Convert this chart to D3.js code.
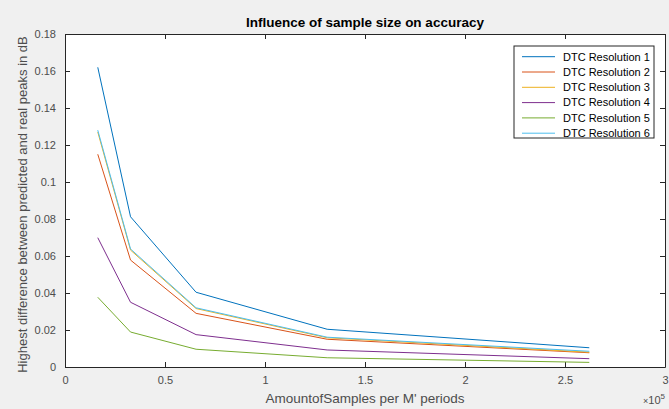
<!DOCTYPE html>
<html>
<head>
<meta charset="utf-8">
<script src="https://cdn.jsdelivr.net/npm/d3@7"></script>
<style>
  body { margin: 0; background: #f0f0f0; }
  svg { display: block; font-family: "Liberation Sans", Arial, sans-serif; }
</style>
</head>
<body>
<svg id="chart" width="669" height="409"></svg>
<script>
// sample counts (x values)
const samples = [16384, 32768, 65536, 131072, 262144]

const seriesNames = ["DTC Resolution 1", "DTC Resolution 2", "DTC Resolution 3",
                     "DTC Resolution 4", "DTC Resolution 5", "DTC Resolution 6"]

const res1 = [0.162, 0.0812, 0.0404, 0.0204, 0.0104]
const res2 = [0.115, 0.0578, 0.0290, 0.0150, 0.0077]
const res3 = [0.127, 0.0632, 0.0316, 0.0158, 0.0080]
const res4 = [0.0699, 0.0350, 0.0175, 0.0092, 0.0045]
const res5 = [0.0377, 0.0189, 0.0096, 0.0050, 0.0025]
const res6 = [0.128, 0.0638, 0.0320, 0.0161, 0.0085]

const xTicks = [0, 0.5, 1, 1.5, 2, 2.5, 3]
const yTicks = [0, 0.02, 0.04, 0.06, 0.08, 0.1, 0.12, 0.14, 0.16, 0.18]

const colors = ["#0072BD", "#D95319", "#EDB120", "#7E2F8E", "#77AC30", "#4DBEEE"]
const allSeries = [res1, res2, res3, res4, res5, res6]

const svg = d3.select("#chart")
const margin = {top: 34, right: 4, bottom: 42, left: 65}
const w = 669 - margin.left - margin.right
const h = 409 - margin.top - margin.bottom

const x = d3.scaleLinear().domain([0, 3]).range([0, w])
const y = d3.scaleLinear().domain([0, 0.18]).range([h, 0])

const g = svg.append("g")
             .attr("transform", `translate(${margin.left}, ${margin.top})`)

g.append("rect")
 .attr("width", w).attr("height", h)
 .attr("fill", "white")

const axisColor = "#262626"
const labelColor = "#4d4d4d"

// ticks on all four sides, pointing inward
const bottomAxis = g.append("g").attr("transform", `translate(0, ${h})`)
  .call(d3.axisBottom(x).tickValues(xTicks).tickSizeInner(-5).tickSizeOuter(0).tickPadding(9)
        .tickFormat(d => d3.format("")(d)))
const topAxis = g.append("g")
  .call(d3.axisTop(x).tickValues(xTicks).tickSizeInner(-5).tickSizeOuter(0).tickFormat(""))
const leftAxis = g.append("g")
  .call(d3.axisLeft(y).tickValues(yTicks).tickSizeInner(-5).tickSizeOuter(0).tickPadding(9)
        .tickFormat(d => d3.format("")(+d.toFixed(2))))
const rightAxis = g.append("g").attr("transform", `translate(${w}, 0)`)
  .call(d3.axisRight(y).tickValues(yTicks).tickSizeInner(-5).tickSizeOuter(0).tickFormat(""))

for (const ax of [bottomAxis, topAxis, leftAxis, rightAxis]) {
  ax.select(".domain").attr("stroke", axisColor).attr("stroke-width", 1)
  ax.selectAll(".tick line").attr("stroke", axisColor)
  ax.selectAll(".tick text").attr("fill", labelColor).style("font-size", "11px")
}

// lines
const line = d3.line()
  .x((d, i) => x(samples[i] / 1e5))
  .y(d => y(d))

allSeries.forEach((s, i) => {
  g.append("path")
   .datum(s)
   .attr("fill", "none")
   .attr("stroke", colors[i])
   .attr("stroke-width", 1)
   .attr("d", line)
})

// title and labels
svg.append("text")
   .attr("x", margin.left + w / 2).attr("y", 27)
   .attr("text-anchor", "middle")
   .attr("font-weight", "bold").attr("font-size", "13.5px").attr("fill", "#000")
   .text("Influence of sample size on accuracy")

svg.append("text")
   .attr("x", margin.left + w / 2).attr("y", 403)
   .attr("text-anchor", "middle")
   .attr("font-size", "13.5px").attr("fill", labelColor)
   .text("AmountofSamples per M' periods")

svg.append("text")
   .attr("transform", `translate(27, ${margin.top + h / 2 + 4}) rotate(-90)`)
   .attr("text-anchor", "middle")
   .attr("font-size", "13px").attr("fill", labelColor)
   .text("Highest difference between predicted and real peaks in dB")

const expo = svg.append("text")
   .attr("x", 665).attr("y", 404)
   .attr("text-anchor", "end")
   .attr("font-size", "11px").attr("fill", labelColor)
expo.append("tspan").attr("font-size", "9px").text("\u00d7")
expo.append("tspan").text("10")
expo.append("tspan").attr("dy", -5).attr("font-size", "8px").text("5")

// legend
const legend = svg.append("g").attr("transform", "translate(514, 46)")
legend.append("rect")
  .attr("width", 140).attr("height", 92)
  .attr("fill", "white").attr("stroke", axisColor).attr("stroke-width", 1)

const items = legend.selectAll(".item")
  .data(seriesNames)
  .enter()
  .append("g")
  .attr("transform", (d, i) => `translate(0, ${10.7 + i * 15.3})`)

items.append("line")
  .attr("x1", 8).attr("x2", 41)
  .attr("stroke", (d, i) => colors[i]).attr("stroke-width", 1)
items.append("text")
  .attr("x", 49).attr("dy", "0.35em")
  .attr("font-size", "11px").attr("fill", "#000")
  .text(d => d)
</script>
</body>
</html>
